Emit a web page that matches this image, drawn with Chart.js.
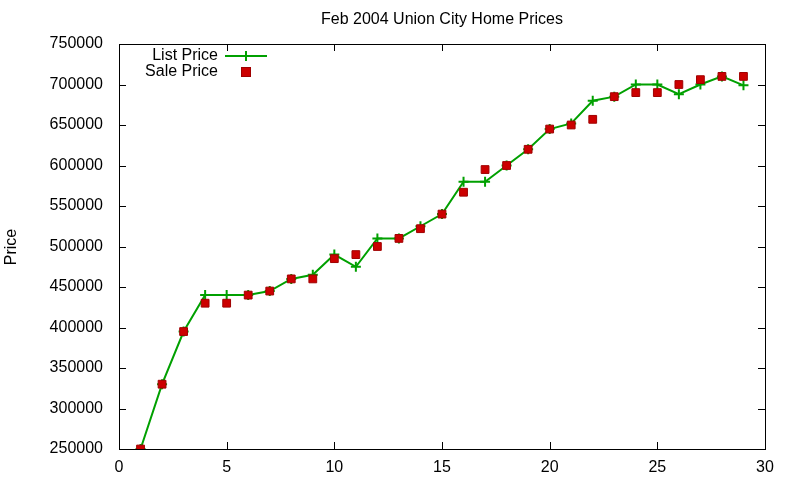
<!DOCTYPE html>
<html><head><meta charset="utf-8">
<script src="https://cdn.jsdelivr.net/npm/chart.js@4"></script>
<style>body{margin:0;background:#fff}#w{width:800px;height:480px}</style>
</head><body><div id="w"><canvas id="c" width="800" height="480"></canvas></div>
<script>
const days = [1,2,3,4,5,6,7,8,9,10,11,12,13,14,15,16,17,18,19,20,21,22,23,24,25,26,27,28,29];
const listPrice = [250000,330000,395000,440000,440000,440000,445000,460000,465000,490000,475000,510000,510000,525000,540000,580000,580000,600000,620000,645000,652000,680000,685000,700000,700000,688000,700000,710000,699000];
const salePrice = [250000,330000,395000,430000,430000,440000,445000,460000,460000,485000,490000,500000,510000,522000,540000,567000,595000,600000,620000,645000,650000,657000,685000,690000,690000,700000,706000,710000,710000];
const xTicks = [0,5,10,15,20,25,30];
const F = '"Liberation Sans", Arial, sans-serif';
const green = '#00a000', red = '#cc0000';

const deco = {
  id:'deco',
  afterDraw(ch){
    const c=ch.ctx, a=ch.chartArea, xs=ch.scales.x, ys=ch.scales.y;
    c.save();
    c.strokeStyle='#000'; c.lineWidth=1;
    c.strokeRect(a.left+0.5,a.top+0.5,a.right-a.left,a.bottom-a.top);
    c.beginPath();
    xs.ticks.forEach(t=>{const p=Math.round(xs.getPixelForValue(t.value))+0.5;
      c.moveTo(p,a.bottom);c.lineTo(p,a.bottom-7);c.moveTo(p,a.top);c.lineTo(p,a.top+7);});
    ys.ticks.forEach(t=>{const p=Math.round(ys.getPixelForValue(t.value))+0.5;
      c.moveTo(a.left,p);c.lineTo(a.left+7,p);c.moveTo(a.right,p);c.lineTo(a.right-7,p);});
    c.stroke();
    c.fillStyle='#000'; c.font='16px '+F; c.textAlign='center'; c.textBaseline='middle';
    c.fillText('Feb 2004 Union City Home Prices',(a.left+a.right)/2,20);
    c.save(); c.translate(12,247); c.rotate(-Math.PI/2); c.fillText('Price',0,0); c.restore();
    c.textAlign='right';
    c.fillText('List Price',218,56); c.fillText('Sale Price',218,72);
    c.strokeStyle=green; c.lineWidth=2;
    c.beginPath(); c.moveTo(225,56); c.lineTo(267,56); c.moveTo(246,51); c.lineTo(246,61); c.stroke();
    c.fillStyle=red; c.strokeStyle='#a00000'; c.lineWidth=1;
    c.fillRect(241.5,67.5,9,9); c.strokeRect(241.5,67.5,9,9);
    c.restore();
  }
};

new Chart(document.getElementById('c'),{
  type:'line',
  data:{datasets:[
    {label:'List Price',order:1,data:days.map((d,i)=>({x:d,y:listPrice[i]})),borderColor:green,backgroundColor:green,
     borderWidth:2,pointStyle:'cross',pointRadius:5,pointBorderWidth:2,tension:0},
    {label:'Sale Price',order:0,data:days.map((d,i)=>({x:d,y:salePrice[i]})),showLine:false,pointStyle:'rect',
     pointRadius:5.5,backgroundColor:red,borderColor:'#a00000',borderWidth:1}
  ]},
  options:{
    responsive:false,animation:false,
    layout:{padding:{top:44,right:35,left:0,bottom:0}},
    plugins:{legend:{display:false},title:{display:false},tooltip:{enabled:false}},
    scales:{
      x:{type:'linear',min:0,max:30,afterBuildTicks:s=>{s.ticks=xTicks.map(v=>({value:v}));},
        grid:{display:false},border:{display:false},
        ticks:{color:'#000',font:{family:F,size:16},padding:1,maxRotation:0},
        afterFit:s=>{s.height=31;}},
      y:{min:250000,max:750000,grid:{display:false},border:{display:false},
        ticks:{stepSize:50000,color:'#000',font:{family:F,size:16},padding:8,callback:v=>String(v)},
        afterFit:s=>{s.width=119;}}
    }
  },
  plugins:[deco]
});
</script></body></html>
